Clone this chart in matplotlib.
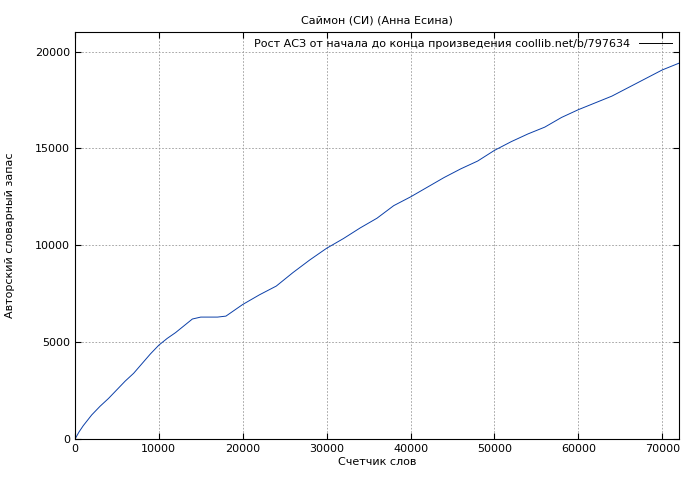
import matplotlib
matplotlib.use('Agg')
import matplotlib.pyplot as plt

words = [0, 500, 1000, 2000, 3000, 4000, 5000, 6000, 7000, 8000, 9000, 10000, 11000, 12000, 13000,
         14000, 15000, 16000, 17000, 18000, 19000, 20000, 22000, 24000, 26000, 28000, 30000, 32000,
         34000, 36000, 38000, 40000, 42000, 44000, 46000, 48000, 50000, 52000, 54000, 56000,
         58000, 60000, 62000, 64000, 66000, 68000, 70000, 72000]
vocab = [0, 380, 700, 1250, 1700, 2100, 2550, 3000, 3400, 3900, 4400, 4850, 5200, 5500, 5850,
         6200, 6300, 6300, 6300, 6350, 6650, 6950, 7450, 7900, 8600, 9250, 9850, 10350,
         10900, 11400, 12050, 12500, 13000, 13500, 13950, 14350, 14900, 15350, 15750, 16100,
         16600, 17000, 17350, 17700, 18150, 18600, 19050, 19400]

plt.rcParams['font.size'] = 8
fig, ax = plt.subplots(figsize=(7, 4.8), dpi=100)
fig.subplots_adjust(left=0.107, right=0.97, top=0.933, bottom=0.085)
ax.plot(words, vocab, color='#0b3fa8', linewidth=0.7,
        label='Рост АСЗ от начала до конца произведения coollib.net/b/797634')
ax.set_xlim(0, 72000)
ax.set_ylim(0, 21000)
ax.set_xticks(range(0, 70001, 10000))
ax.set_yticks(range(0, 20001, 5000))
ax.grid(True, color='#999999', linestyle=(0, (2, 2)), linewidth=0.6)
ax.tick_params(direction='in', length=4, top=True, right=True)
ax.set_title('Саймон (СИ) (Анна Есина)', fontsize=8)
ax.set_xlabel('Счетчик слов', labelpad=2)
ax.set_ylabel('Авторский словарный запас', labelpad=14)
leg = ax.legend(loc='upper right', frameon=False, markerfirst=False, handlelength=3,
                borderaxespad=0.2)
leg.get_lines()[0].set_color('black')
fig.savefig('out.png')
